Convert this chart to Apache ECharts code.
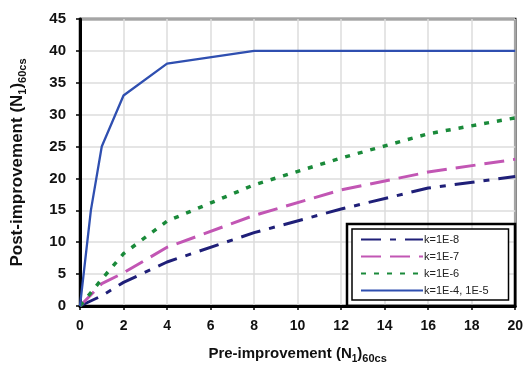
<!DOCTYPE html>
<html>
<head>
<meta charset="utf-8">
<script src="https://cdn.jsdelivr.net/npm/echarts@6/dist/echarts.min.js"></script>
<style>
  html, body { margin: 0; padding: 0; background: #fff; }
  #main { width: 526px; height: 369px; }
</style>
</head>
<body>
<div id="main"></div>
<script>
// values: [pre, post]
var xTicks = [0, 2, 4, 6, 8, 10, 12, 14, 16, 18, 20];
var k1e8 = [[0, 0], [1, 1.6], [2, 3.7], [4, 6.9], [8, 11.5], [12, 15.2], [16, 18.5], [20, 20.3]];
var k1e7 = [[0, 0], [1, 3.5], [2, 5.2], [4, 9.2], [8, 14.2], [12, 18.2], [16, 21], [20, 23]];
var k1e6 = [[0, 0], [1, 4.2], [2, 8.2], [4, 13.3], [8, 19], [12, 23.2], [16, 27], [20, 29.5]];
var k1e4 = [[0, 0], [0.5, 15], [1, 25], [2, 33], [4, 38], [8, 40], [20, 40]];
var seriesNames = ['k=1E-8', 'k=1E-7', 'k=1E-6', 'k=1E-4, 1E-5'];

var chart = echarts.init(document.getElementById('main'));
var font = 'Liberation Sans, Arial, sans-serif';

function line(name, data, color, width, type) {
    return {
        name: name, type: 'line', data: data, symbol: 'none',
        lineStyle: { color: color, width: width, type: type },
        itemStyle: { color: color }
    };
}

var option = {
    animation: false,
    grid: {
        left: 80, right: 10, top: 19, bottom: 62,
        show: true, borderColor: '#000', borderWidth: 2.5
    },
    xAxis: {
        type: 'value', min: 0, max: 20, interval: 2,
        name: '{b|Pre-improvement (N}{s1|1}{b|)}{s|60cs}',
        nameLocation: 'middle', nameGap: 38,
        nameTextStyle: {
            rich: {
                b: { fontFamily: font, fontWeight: 'bold', fontSize: 15, color: '#111', lineHeight: 20 },
                s1: { fontFamily: font, fontWeight: 'bold', fontSize: 10, color: '#111', lineHeight: 20, verticalAlign: 'bottom' },
                s: { fontFamily: font, fontWeight: 'bold', fontSize: 11, color: '#111', lineHeight: 14, verticalAlign: 'bottom', padding: [6, 0, 0, 0] }
            }
        },
        axisLine: { lineStyle: { color: '#000', width: 3 } },
        axisTick: { show: true, length: 4, lineStyle: { color: '#000', width: 1.5 } },
        axisLabel: { fontFamily: font, fontWeight: 'bold', fontSize: 14, color: '#111', margin: 13 },
        splitLine: { lineStyle: { color: '#dcdcdc', width: 1.5 } }
    },
    yAxis: {
        type: 'value', min: 0, max: 45, interval: 5,
        name: '{b|Post-improvement (N}{s1|1}{b|)}{s|60cs}',
        nameLocation: 'middle', nameGap: 52, nameRotate: 90,
        nameTextStyle: {
            rich: {
                b: { fontFamily: font, fontWeight: 'bold', fontSize: 17, color: '#111', lineHeight: 22 },
                s1: { fontFamily: font, fontWeight: 'bold', fontSize: 11, color: '#111', lineHeight: 22, verticalAlign: 'bottom' },
                s: { fontFamily: font, fontWeight: 'bold', fontSize: 11, color: '#111', lineHeight: 14, verticalAlign: 'bottom', padding: [6, 0, 0, 0] }
            }
        },
        axisLine: { show: true, lineStyle: { color: '#000', width: 3 } },
        axisTick: { show: true, length: 4, lineStyle: { color: '#000', width: 1.5 } },
        axisLabel: { fontFamily: font, fontWeight: 'bold', fontSize: 15, color: '#111', margin: 14 },
        splitLine: { lineStyle: { color: '#dcdcdc', width: 1.5 } }
    },
    legend: {
        data: seriesNames,
        orient: 'vertical',
        left: 352, top: 229,
        itemWidth: 62, itemHeight: 12, itemGap: 6,
        itemStyle: { opacity: 0 },
        backgroundColor: '#fff',
        borderColor: '#000', borderWidth: 1.5,
        padding: [5, 20, 4, 8],
        textStyle: { fontFamily: font, fontSize: 11, color: '#222', padding: [0, 0, 0, -4] }
    },
    graphic: [{
        type: 'rect', z: 100, silent: true,
        shape: { x: 347, y: 224, width: 168, height: 82 },
        style: { fill: 'none', stroke: '#000', lineWidth: 2.5 }
    }],
    series: [
        line(seriesNames[0], k1e8, '#1f1f78', 3, [20, 9, 6, 9]),
        line(seriesNames[1], k1e7, '#c256b4', 3, [20, 9]),
        line(seriesNames[2], k1e6, '#1a8a3a', 3.5, [5, 8]),
        line(seriesNames[3], k1e4, '#2f4fb0', 2.3, 'solid')
    ]
};
option && chart.setOption(option);
</script>
</body>
</html>
